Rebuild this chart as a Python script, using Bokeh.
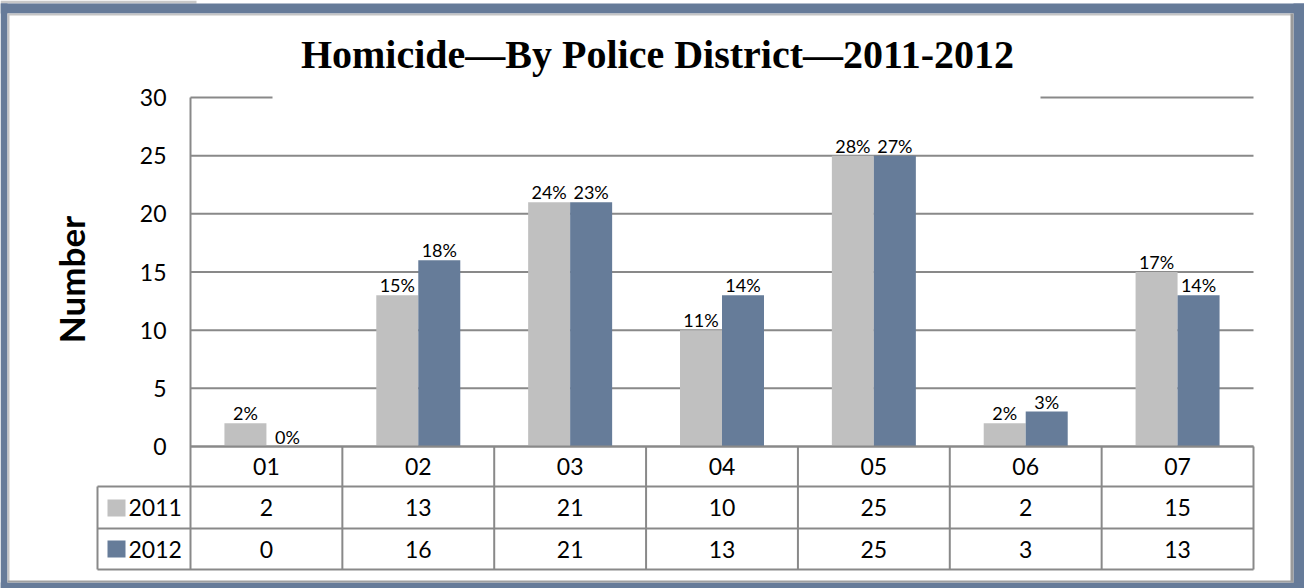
import math
from bokeh.plotting import figure
from bokeh.models import Range1d, FixedTicker, ColumnDataSource
from bokeh.core.properties import value
from bokeh.embed import file_html
from bokeh.resources import INLINE

# ---- data ----
districts = ["01", "02", "03", "04", "05", "06", "07"]
years = ["2011", "2012"]
counts_2011 = [2, 13, 21, 10, 25, 2, 15]
counts_2012 = [0, 16, 21, 13, 25, 3, 13]
y_ticks = [0, 5, 10, 15, 20, 25, 30]
title_text = "Homicide\u2014By Police District\u20142011-2012"
y_label = "Number"

# ---- style / layout (pixels) ----
BAR_GRAY = "#c0c0c0"
BAR_BLUE = "#667c99"
FRAME_BLUE = "#667b99"
LINE = "#898989"
FONT = "Lato"

W, H = 1304, 588
FL, FR_T, FT, Y0, TB = 190, 1253, 97, 446, 569
ROW1, ROW2 = 486, 528
n = len(districts)
cat_w = (FR_T - FL) / n
pxu = (Y0 - FT) / 30.0


def X(px):
    return (px - FL) / cat_w


def Y(py):
    return (Y0 - py) / pxu


p = figure(width=W, height=H, output_backend="svg", toolbar_location=None,
           x_range=Range1d(X(0), X(W)), y_range=Range1d(Y(H), Y(0)),
           min_border=0, min_border_left=0, min_border_right=0,
           min_border_top=0, min_border_bottom=0)
p.title.visible = False
p.outline_line_color = None
p.background_fill_color = "white"
p.border_fill_color = "white"
p.xaxis.visible = False
p.xgrid.visible = False
p.ygrid.visible = False

# y axis drawn at x = 0
p.yaxis.fixed_location = 0
p.yaxis.ticker = FixedTicker(ticks=y_ticks)
p.yaxis.bounds = (Y(TB), y_ticks[-1])
p.yaxis.major_tick_in = 0
p.yaxis.major_tick_out = 0
p.yaxis.minor_tick_in = 0
p.yaxis.minor_tick_out = 0
p.yaxis.axis_line_color = LINE
p.yaxis.axis_line_width = 2
p.yaxis.major_label_text_font = FONT
p.yaxis.major_label_text_font_size = "23px"
p.yaxis.major_label_text_color = "black"
p.yaxis.major_label_standoff = 24

# gridlines (top one interrupted behind the title)
gl = y_ticks[:-1]
p.segment(x0=[0] * len(gl), x1=[n] * len(gl), y0=gl, y1=gl, line_color=LINE, line_width=2)
top = y_ticks[-1]
p.segment(x0=[0, X(1040)], x1=[X(272), n], y0=[top, top], y1=[top, top], line_color=LINE, line_width=2)

# axis title
p.text(x=[X(70)], y=[Y(279)], text=[y_label], angle=math.pi / 2, text_align="center",
       text_baseline="middle", text_font=value(FONT), text_font_style="bold",
       text_font_size="35px", text_color="black")

# chart title
p.text(x=[X(657)], y=[Y(54)], text=[title_text], text_align="center", text_baseline="middle",
       text_font=value("Liberation Serif"), text_font_style="bold", text_font_size="40px",
       text_color="black")

# bars
bw = 42 / cat_w
x11 = [i + 0.5 - bw / 2 for i in range(n)]
x12 = [i + 0.5 + bw / 2 for i in range(n)]
tot11 = sum(counts_2011)
tot12 = sum(counts_2012)
pct11 = [f"{round(100 * v / tot11)}%" for v in counts_2011]
pct12 = [f"{round(100 * v / tot12)}%" for v in counts_2012]
s11 = ColumnDataSource(dict(x=x11, top=counts_2011, pct=pct11))
s12 = ColumnDataSource(dict(x=x12, top=counts_2012, pct=pct12))
p.vbar(x="x", top="top", bottom=0, width=bw, source=s11, fill_color=BAR_GRAY, line_color=None)
p.vbar(x="x", top="top", bottom=0, width=bw, source=s12, fill_color=BAR_BLUE, line_color=None)
for s in (s11, s12):
    p.text(x="x", y="top", text="pct", source=s, text_align="center", text_baseline="middle",
           y_offset=-10, text_font=value(FONT), text_font_size="18px", text_color="black")

# data table
y_rows = [0, Y(ROW1), Y(ROW2), Y(TB)]
p.segment(x0=[0, X(97), X(97), X(97)], x1=[n] * 4, y0=y_rows, y1=y_rows, line_color=LINE, line_width=2)
p.segment(x0=list(range(1, n + 1)), x1=list(range(1, n + 1)), y0=[0] * n, y1=[Y(TB)] * n,
          line_color=LINE, line_width=2)
p.segment(x0=[X(97)], x1=[X(97)], y0=[Y(ROW1)], y1=[Y(TB)], line_color=LINE, line_width=2)
cx = [i + 0.5 for i in range(n)]
tfont = dict(text_align="center", text_baseline="middle", text_font=value(FONT),
             text_font_size="23px", text_color="black")
row_mid = [Y((Y0 + ROW1) / 2), Y((ROW1 + ROW2) / 2), Y((ROW2 + TB) / 2)]
p.text(x=cx, y=[row_mid[0]] * n, text=districts, **tfont)
p.text(x=cx, y=[row_mid[1]] * n, text=[str(v) for v in counts_2011], **tfont)
p.text(x=cx, y=[row_mid[2]] * n, text=[str(v) for v in counts_2012], **tfont)

# legend keys in the table
p.quad(left=[X(107)] * 2, right=[X(125)] * 2, top=[Y(499), Y(540)], bottom=[Y(516), Y(557)],
       fill_color=[BAR_GRAY, BAR_BLUE], line_color=None)
p.text(x=[X(128)] * 2, y=row_mid[1:], text=years, text_align="left", text_baseline="middle",
       text_font=value(FONT), text_font_size="23px", text_color="black")

# outer frame
fl = [0, 0, 0, 1293, 0, 7, 7, 1290, 7]
fr = [196, W, 7, W, W, 1293, 9, 1293, 1293]
ft = [0, 3, 3, 3, 582, 13, 13, 13, 580]
fb = [3, 13, H, H, H, 15, 582, 582, 582]
fc = ["#c8c8c8", FRAME_BLUE, FRAME_BLUE, FRAME_BLUE, FRAME_BLUE, "#c4c4c4", "#c4c4c4", "#9a9a9a", "#a0a0a0"]
p.quad(left=[X(v) for v in fl], right=[X(v) for v in fr], top=[Y(v) for v in ft],
       bottom=[Y(v) for v in fb], fill_color=fc, line_color=None)

open("out.html", "w").write(file_html(p, INLINE))
